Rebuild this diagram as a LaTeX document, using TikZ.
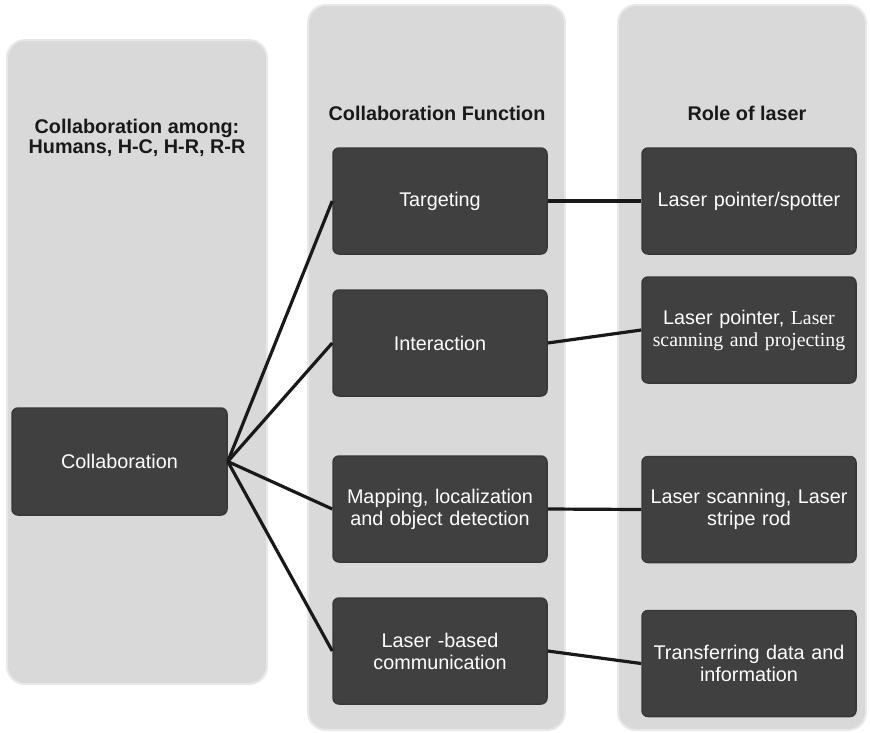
\documentclass[tikz,border=0pt]{standalone}
\usepackage{fontspec}
\setmainfont{Liberation Sans}
\newfontfamily\serifpart{Liberation Serif}
\definecolor{colfill}{RGB}{217,217,217}
\definecolor{coledge}{RGB}{232,232,232}
\definecolor{boxfill}{RGB}{64,64,64}
\definecolor{boxedge}{RGB}{56,56,56}
\begin{document}
\begin{tikzpicture}[x=1pt,y=-1pt,
  column/.style={fill=colfill,draw=coledge,line width=2pt,rounded corners=18pt},
  darkbox/.style={fill=boxfill,draw=boxedge,line width=1.5pt,rounded corners=6pt,
    minimum width=214pt,minimum height=106pt,text width=205pt,align=center,
    text=white,font=\fontsize{19.8}{22}\selectfont,inner sep=0pt},
  title/.style={font=\bfseries\fontsize{19.8}{20}\selectfont,align=center,text=black!90},
  conn/.style={draw=black!90,line width=3.2pt}]
\useasboundingbox (0,0) rectangle (870,732);
\fill[white] (0,0) rectangle (870,732);
% columns
\path[column] (7,40) rectangle (267,684);
\path[column] (308,5) rectangle (565,730);
\path[column] (618,5) rectangle (866,730);
% titles
\node[title] (tl) at (137,138) {Collaboration among:\\Humans, H-C, H-R, R-R};
\node[title] (tm) at (437,113) {Collaboration Function};
\node[title] (tr) at (747,113) {Role of laser};
% boxes
\node[darkbox,minimum width=215pt,minimum height=107pt] (col) at (119.5,461.5) {Collaboration};
\node[darkbox] (m1) at (440,201) {Targeting};
\node[darkbox] (m2) at (440,343) {Interaction};
\node[darkbox] (m3) at (440,509) {Mapping, localization\\and object detection};
\node[darkbox] (m4) at (440,651) {Laser -based\\communication};
\node[darkbox] (r1) at (749,201) {Laser pointer/spotter};
\node[darkbox] (r2) at (749,330) {Laser pointer, {\serifpart Laser}\\{\serifpart scanning and projecting}};
\node[darkbox] (r3) at (749,509.5) {Laser scanning, Laser\\stripe rod};
\node[darkbox] (r4) at (749,663.5) {Transferring data and\\information};
% connectors
\draw[conn] (col.east) -- (m1.west);
\draw[conn] (col.east) -- (m2.west);
\draw[conn] (col.east) -- (m3.west);
\draw[conn] (col.east) -- (m4.west);
\draw[conn] (m1.east) -- (r1.west);
\draw[conn] (m2.east) -- (r2.west);
\draw[conn] (m3.east) -- (r3.west);
\draw[conn] (m4.east) -- (r4.west);
\end{tikzpicture}
\end{document}
